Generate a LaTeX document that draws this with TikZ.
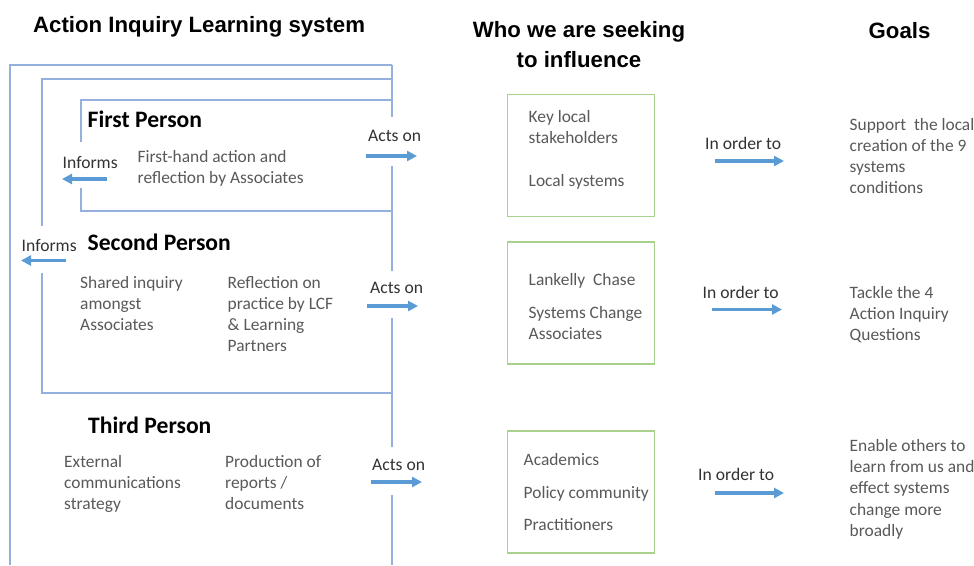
\documentclass[tikz,border=0pt]{standalone}
\usepackage{fontspec}
\usetikzlibrary{arrows.meta}
\newfontfamily\calfont{Carlito}
\newfontfamily\hdfont{Liberation Sans}
\definecolor{frameblue}{RGB}{150,176,222}
\definecolor{arrowblue}{RGB}{91,155,213}
\definecolor{boxgreen}{RGB}{169,209,142}
\definecolor{bodygray}{RGB}{89,89,89}
\definecolor{lblgray}{RGB}{50,50,50}
\newcommand\tlines[5]{%
  \foreach \tl [count=\ti] in {#5} {\node[#1] (#2-\ti) at (#3, {#4+(\ti-1)*21.2}) {\tl};}}
\begin{document}
\begin{tikzpicture}[x=1pt,y=-1pt,
  bodytxt/.style={font=\calfont\fontsize{17.4}{21}\selectfont, text=bodygray, inner sep=0pt, anchor=base west},
  lbltxt/.style={font=\calfont\fontsize{17.6}{21}\selectfont, text=lblgray, inner sep=0pt, anchor=base west},
  perstxt/.style={font=\calfont\bfseries\fontsize{23.6}{27}\selectfont, text=black, inner sep=0pt, anchor=base west},
  hdrtxt/.style={font=\hdfont\bfseries\fontsize{22.2}{30}\selectfont, text=black, inner sep=0pt, anchor=base},
  frameline/.style={draw=frameblue, line width=1.3pt},
  arr/.style={draw=arrowblue, line width=3.2pt, -{Triangle[length=10pt,width=10pt]}},
  gbox/.style={draw=boxgreen, line width=1.5pt}]
\useasboundingbox (0,0) rectangle (974,565);
\fill[white] (0,0) rectangle (974,565);

% headers
\node[hdrtxt, anchor=base west] (h1) at (33,32) {Action Inquiry Learning system};
\node[hdrtxt] (h2a) at (579,37) {Who we are seeking};
\node[hdrtxt] (h2b) at (579,67) {to influence};
\node[hdrtxt] (h3) at (899.5,38) {Goals};

% frames
\draw[frameline] (10,565) -- (10,65) -- (392,65);
\draw[frameline] (42,226) -- (42,79) -- (392,79);
\draw[frameline] (42,273) -- (42,393) -- (392,393);
\draw[frameline] (81,142) -- (81,100) -- (392,100);
\draw[frameline] (81,188) -- (81,211) -- (392,211);
\draw[frameline] (392,65) -- (392,117);
\draw[frameline] (392,166) -- (392,271);
\draw[frameline] (392,318) -- (392,447);
\draw[frameline] (392,495) -- (392,565);

% person headings
\node[perstxt] (p1) at (87.5,127) {First Person};
\node[perstxt] (p2) at (87.5,250) {Second Person};
\node[perstxt] (p3) at (88,433) {Third Person};

% body texts
\tlines{bodytxt}{fp}{137.5}{162}{First-hand action and,reflection by Associates}
\tlines{bodytxt}{sp1}{80}{288}{Shared inquiry,amongst,Associates}
\tlines{bodytxt}{sp2}{227.5}{288}{Reflection on,practice by LCF,\& Learning,Partners}
\tlines{bodytxt}{tp1}{64}{467}{External,communications,strategy}
\tlines{bodytxt}{tp2}{225}{467}{Production of,reports /,documents}

% informs
\node[lbltxt] (inf1) at (62.5,168.5) {Informs};
\coordinate (inf1a) at (107,179);
\coordinate (inf1b) at (62,179);
\draw[arr] (inf1a) -- (inf1b);
\node[lbltxt] (inf2) at (21.5,251) {Informs};
\coordinate (inf2a) at (66,260.5);
\coordinate (inf2b) at (21,260.5);
\draw[arr] (inf2a) -- (inf2b);

% acts on
\node[lbltxt] (ao1) at (368,141) {Acts on};
\coordinate (ao1a) at (366,156);
\coordinate (ao1b) at (417,156);
\draw[arr] (ao1a) -- (ao1b);
\node[lbltxt] (ao2) at (370,293) {Acts on};
\coordinate (ao2a) at (367,306);
\coordinate (ao2b) at (418,306);
\draw[arr] (ao2a) -- (ao2b);
\node[lbltxt] (ao3) at (372,470) {Acts on};
\coordinate (ao3a) at (371,482);
\coordinate (ao3b) at (422,482);
\draw[arr] (ao3a) -- (ao3b);

% green boxes
\node[gbox, minimum width=147pt, minimum height=122pt, anchor=north west, inner sep=0pt] (b1) at (506.5,93.5) {};
\node[gbox, minimum width=147pt, minimum height=122pt, anchor=north west, inner sep=0pt] (b2) at (506.5,241) {};
\node[gbox, minimum width=147pt, minimum height=122pt, anchor=north west, inner sep=0pt] (b3) at (506.5,430) {};

\tlines{bodytxt}{b1t}{528.5}{122}{Key local,stakeholders}
\node[bodytxt] (b1u) at (528.5,186) {Local systems};
\node[bodytxt] (b2t) at (528.5,285) {Lankelly\ \ Chase};
\tlines{bodytxt}{b2u}{528.5}{318.5}{Systems Change,Associates}
\node[bodytxt] (b3a) at (523.5,465) {Academics};
\node[bodytxt] (b3b) at (523.5,498) {Policy community};
\node[bodytxt] (b3c) at (523.5,530.5) {Practitioners};

% in order to
\node[lbltxt] (io1) at (705,149) {In order to};
\coordinate (io1a) at (715,161);
\coordinate (io1b) at (784,161);
\draw[arr] (io1a) -- (io1b);
\node[lbltxt] (io2) at (702.5,298.5) {In order to};
\coordinate (io2a) at (712,309.5);
\coordinate (io2b) at (782,309.5);
\draw[arr] (io2a) -- (io2b);
\node[lbltxt] (io3) at (698,480) {In order to};
\coordinate (io3a) at (715,493);
\coordinate (io3b) at (784,493);
\draw[arr] (io3a) -- (io3b);

% goals
\tlines{bodytxt}{g1}{849.5}{130}{Support\ \ the local,creation of the 9,systems,conditions}
\tlines{bodytxt}{g2}{849.5}{298}{Tackle the 4,Action Inquiry,Questions}
\tlines{bodytxt}{g3}{849.5}{451.5}{Enable others to,learn from us and,effect systems,change more,broadly}
\end{tikzpicture}
\end{document}
